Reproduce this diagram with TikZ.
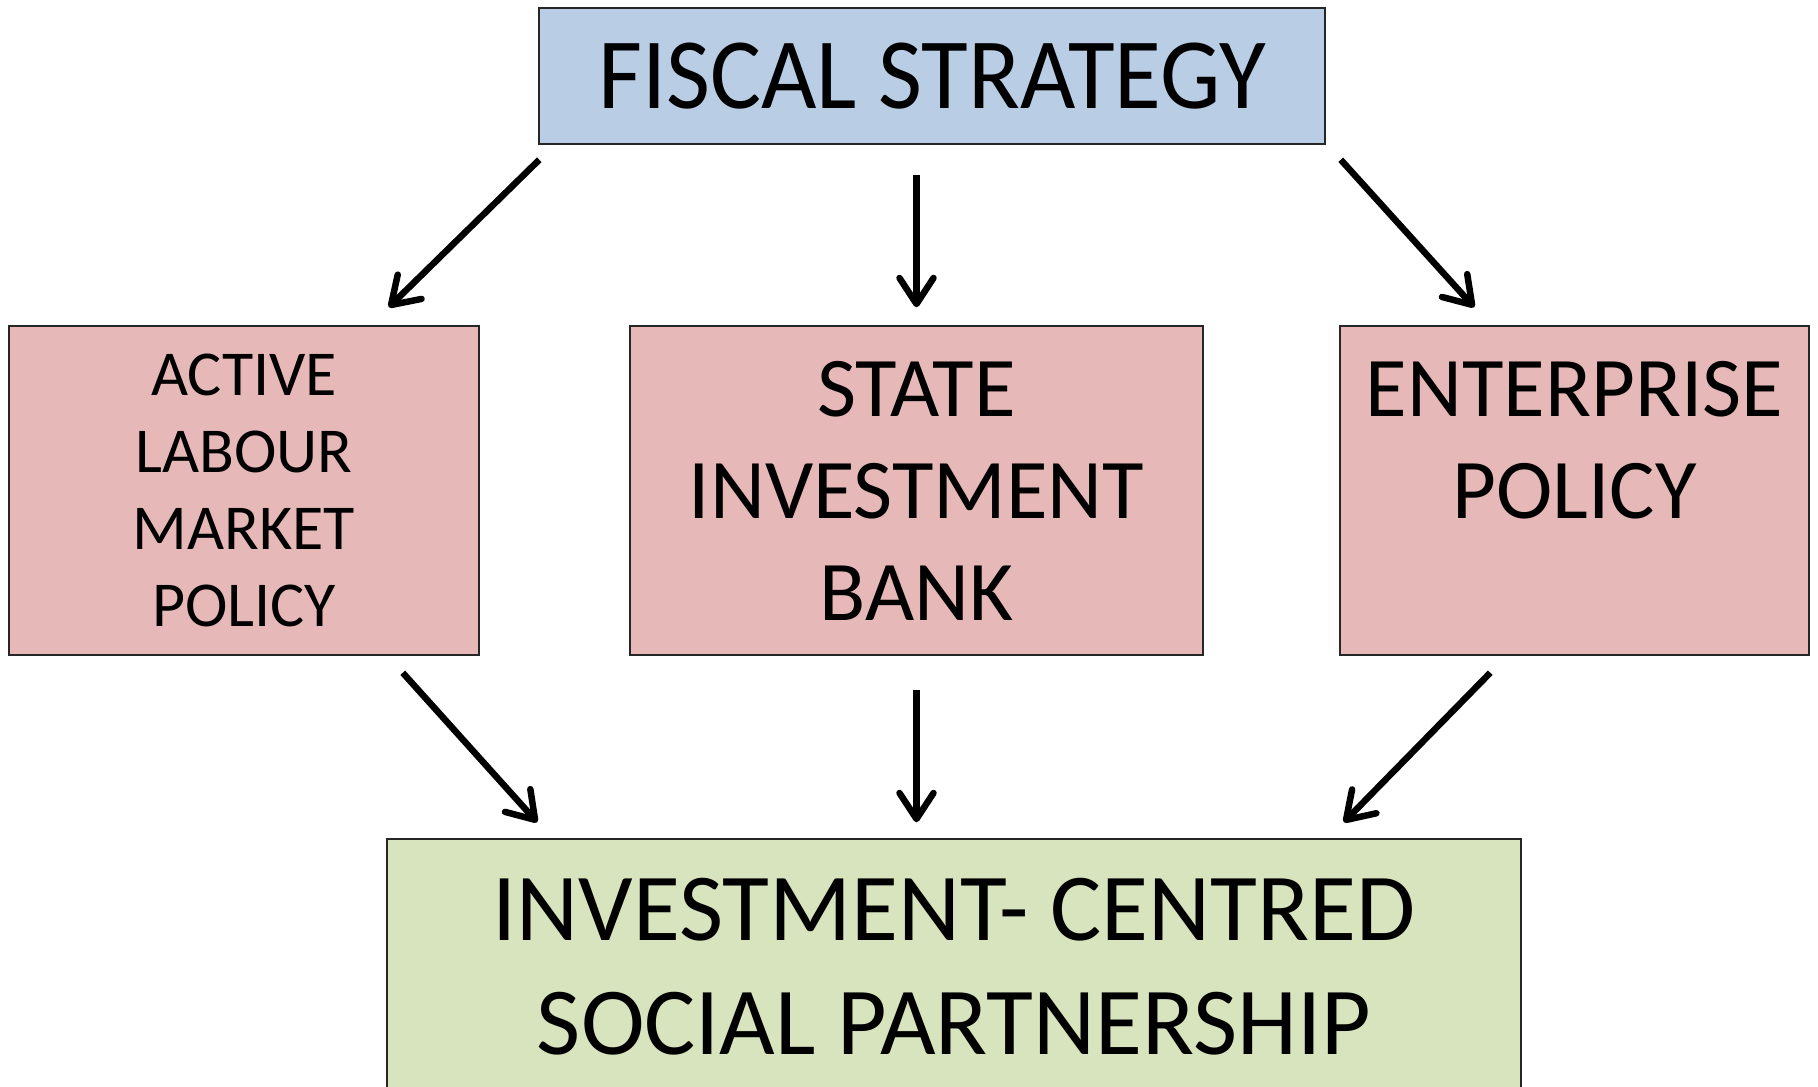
\documentclass[tikz,border=0pt]{standalone}
\usepackage{fontspec}
\setmainfont{Carlito}
\newfontfamily\narrowfont[FakeStretch=0.947]{Carlito}
\usetikzlibrary{arrows.meta,calc}
\definecolor{fblue}{HTML}{B9CDE5}
\definecolor{fpink}{HTML}{E6B9B8}
\definecolor{fgreen}{HTML}{D7E4BD}
\begin{document}
\begin{tikzpicture}[x=1pt,y=-1pt,
  boxbase/.style={draw=black!85,line width=1.5pt,inner sep=0pt,align=center,text=black},
  flow/.style={line width=6.5pt,-{Straight Barb[length=26pt,width=34pt,round]}}]
\useasboundingbox[fill=white] (0,0) rectangle (1818,1087);
\node[boxbase,fill=fblue,minimum width=786pt,minimum height=136pt,
  font=\narrowfont\fontsize{101}{120}\selectfont] (fiscal) at (932,76) {FISCAL STRATEGY};
\node[boxbase,fill=fpink,minimum width=470pt,minimum height=329pt,
  font=\fontsize{64}{77}\selectfont] (left) at (244,490.5) {ACTIVE\\LABOUR\\MARKET\\POLICY};
\node[boxbase,fill=fpink,minimum width=573pt,minimum height=329pt,
  font=\fontsize{85}{102}\selectfont] (mid) at (916.5,490.5) {STATE\\INVESTMENT\\BANK};
\node[boxbase,fill=fpink,minimum width=469pt,minimum height=329pt,
  font=\fontsize{85}{102}\selectfont] (right) at (1574.5,490.5) {ENTERPRISE\\POLICY\\\mbox{}};
\node[boxbase,fill=fgreen,minimum width=1134pt,minimum height=256pt,
  font=\fontsize{96}{114}\selectfont] (bottom) at (954,967) {INVESTMENT- CENTRED\\SOCIAL PARTNERSHIP};
\draw[flow] ($(fiscal.south west)+(1,15)$) -- ($(left.north east)+(-91,-18)$);
\draw[flow] ($(fiscal.south -| mid.north)+(0,30)$) -- ($(mid.north)+(0,-18)$);
\draw[flow] ($(fiscal.south east)+(15,15)$) -- ($(right.north west)+(135,-18)$);
\draw[flow] ($(left.south east)+(-77,17)$) -- ($(bottom.north west)+(151,-16)$);
\draw[flow] ($(mid.south)+(0,34)$) -- ($(mid.south |- bottom.north)+(0,-16)$);
\draw[flow] ($(right.south west)+(151,17)$) -- ($(bottom.north east)+(-178,-16)$);
\end{tikzpicture}
\end{document}
